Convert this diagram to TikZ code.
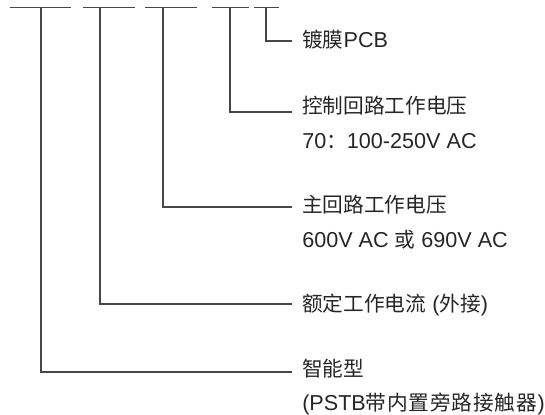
\documentclass[tikz,border=0pt]{standalone}
\usepackage{fontspec}
\setmainfont{Liberation Sans}
\newfontfamily\cjk[Scale=0.957]{Noto Sans CJK SC}
\newcommand\tk[1]{#1\hspace{0.6pt}}
\begin{document}
\begin{tikzpicture}[x=0.75pt,y=-0.75pt,
  conn/.style={draw=black!72, line width=0.9pt},
  lbl/.style={anchor=base west, inner sep=0pt, text=black!85, font=\fontsize{16.2pt}{19pt}\selectfont}]
\useasboundingbox (0,0) rectangle (545,414);
% top bars
\coordinate (b1l) at (9.5,7.5);  \coordinate (b1r) at (71,7.5);
\coordinate (b2l) at (83,7.5);   \coordinate (b2r) at (135,7.5);
\coordinate (b3l) at (145,7.5);  \coordinate (b3r) at (197,7.5);
\coordinate (b4l) at (212,7.5);  \coordinate (b4r) at (249,7.5);
\coordinate (b5l) at (254,7.5);  \coordinate (b5r) at (279,7.5);
\foreach \i in {1,...,5} \draw[conn] (b\i l) -- (b\i r);
% tap points
\coordinate (t1) at (41,7.5);
\coordinate (t2) at (100,7.5);
\coordinate (t3) at (163,7.5);
\coordinate (t4) at (230,7.5);
\coordinate (t5) at (266,7.5);
% ends
\coordinate (e1) at (292,372);
\coordinate (e2) at (292,304);
\coordinate (e3) at (292,207);
\coordinate (e4) at (292,112);
\coordinate (e5) at (292,41);
\foreach \i in {1,...,5} \draw[conn] (t\i) |- (e\i);
% labels
\node[lbl] (l5) at (302,47) {{\cjk 镀膜}PCB};
\node[lbl] (l4a) at (302,113) {\cjk 控制回路工作电压};
\node[lbl] (l4b) at (302,148) {70{\cjk ：}100-250V AC};
\node[lbl] (l3a) at (302,212) {\cjk 主回路工作电压};
\node[lbl] (l3b) at (302,247) {600V AC {\cjk 或} 690V AC};
\node[lbl] (l2) at (302,311) {{\cjk 额定工作电流} ({\cjk 外接})};
\node[lbl] (l1a) at (302,376) {\cjk 智能型};
\node[lbl] (l1b) at (302,410) {(PSTB{\cjk\tk{带}\tk{内}\tk{置}\tk{旁}\tk{路}\tk{接}\tk{触}\tk{器}})};
\end{tikzpicture}
\end{document}
